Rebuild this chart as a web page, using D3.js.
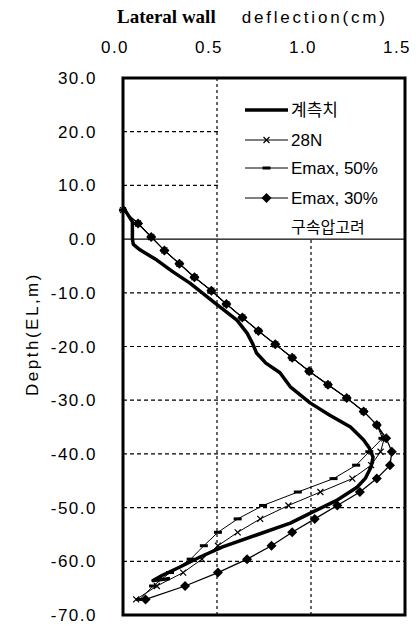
<!DOCTYPE html>
<html><head><meta charset="utf-8">
<script src="https://cdn.jsdelivr.net/npm/d3@7"></script>
<style>
body{margin:0;background:#fff;}
text{font-family:"Liberation Sans","Noto Sans CJK KR",sans-serif;fill:#000;}
</style></head>
<body><svg id="c" width="420" height="627"></svg>
<script>
// ---- data ----
const xTicks = [0.0, 0.5, 1.0, 1.5];
const yTicks = [30, 20, 10, 0, -10, -20, -30, -40, -50, -60, -70];
const seriesNames = ["계측치", "28N", "Emax, 50%", "Emax, 30%"];
const legendNote = "구속압고려";

// measured (thick line)
const measDepth = [6.0, 3.2, 0.0, -1.0, -2.0, -3.9, -6.1, -8.2, -11.9, -15.1, -17.5, -19.5, -21.2, -23.1, -24.9, -27.5, -30.5, -32.8, -35.0, -37.4, -38.9, -40.6, -42.4, -44.5, -46.2, -48.6, -50.8, -52.9, -55.1, -57.3, -59.2, -61.1, -62.6, -63.6, -63.2];
const measDefl  = [0.00, 0.05, 0.05, 0.055, 0.09, 0.18, 0.266, 0.356, 0.49, 0.606, 0.66, 0.69, 0.71, 0.76, 0.835, 0.89, 0.995, 1.10, 1.21, 1.28, 1.31, 1.33, 1.32, 1.29, 1.245, 1.14, 1.01, 0.89, 0.71, 0.53, 0.41, 0.30, 0.21, 0.16, 0.25];

// computed series (common node depths)
const nodeDepth = [5.4, 2.9, 0.4, -2.1, -4.6, -7.1, -9.6, -12.1, -14.6, -17.1, -19.6, -22.1, -24.6, -27.1, -29.6, -32.1, -34.6, -37.1, -39.6, -42.1, -44.6, -47.1, -49.6, -52.1, -54.6, -57.1, -59.6, -62.1, -64.6, -67.1];
const defl28N   = [0.00, 0.08, 0.15, 0.22, 0.30, 0.38, 0.47, 0.55, 0.635, 0.72, 0.81, 0.90, 0.99, 1.09, 1.19, 1.28, 1.35, 1.39, 1.37, 1.32, 1.22, 1.05, 0.88, 0.73, 0.61, 0.505, 0.42, 0.32, 0.18, 0.07];
const deflE50   = [0.00, 0.08, 0.15, 0.22, 0.30, 0.38, 0.47, 0.55, 0.635, 0.72, 0.81, 0.90, 0.99, 1.09, 1.19, 1.28, 1.35, 1.38, 1.31, 1.24, 1.12, 0.93, 0.745, 0.61, 0.505, 0.43, 0.36, 0.25, 0.16, 0.09];
const deflE30   = [0.00, 0.08, 0.15, 0.22, 0.30, 0.38, 0.47, 0.55, 0.635, 0.72, 0.81, 0.90, 0.99, 1.09, 1.19, 1.28, 1.35, 1.40, 1.43, 1.42, 1.35, 1.26, 1.14, 1.02, 0.90, 0.79, 0.66, 0.505, 0.33, 0.12];

// ---- layout ----
const svg = d3.select("#c");
const L = 123, R = 405, T = 78, B = 615;
const x = d3.scaleLinear().domain([0, 1.5]).range([L, R]);
const y = d3.scaleLinear().domain([30, -70]).range([T, B]);

// grid
const g = svg.append("g");
g.selectAll("line.v").data(xTicks.filter(v => v > 0 && v < 1.5)).enter().append("line")
  .attr("x1", d => x(d)).attr("x2", d => x(d)).attr("y1", T).attr("y2", B)
  .attr("stroke", "#000").attr("stroke-width", 1.2).attr("stroke-dasharray", "3,3");
g.selectAll("line.h").data(yTicks.filter(v => v < 30 && v > -70)).enter().append("line")
  .attr("x1", L).attr("x2", R).attr("y1", d => y(d)).attr("y2", d => y(d))
  .attr("stroke", "#000").attr("stroke-width", d => d === 0 ? 1.3 : 1.2)
  .attr("stroke-dasharray", d => d === 0 ? null : "4,3");

// legend background
svg.append("rect").attr("x", x(0.5) + 2).attr("y", T).attr("width", R - x(0.5) - 2).attr("height", y(0) - T - 1).attr("fill", "#fff");

// series
const line = d3.line().x(d => x(d[0])).y(d => y(d[1]));
const zip = (a, b) => a.map((v, i) => [v, b[i]]);

const s28 = zip(defl28N, nodeDepth), s50 = zip(deflE50, nodeDepth), s30 = zip(deflE30, nodeDepth);
svg.append("path").attr("d", line(s50)).attr("fill", "none").attr("stroke", "#000").attr("stroke-width", 1);
svg.append("path").attr("d", line(s28)).attr("fill", "none").attr("stroke", "#000").attr("stroke-width", 1);
svg.append("path").attr("d", line(s30)).attr("fill", "none").attr("stroke", "#000").attr("stroke-width", 1.3);
svg.append("path").attr("d", line(zip(measDefl, measDepth)))
  .attr("fill", "none").attr("stroke", "#000").attr("stroke-width", 3.5).attr("stroke-linejoin", "round");

// markers
function xMark(sel, cx, cy) {
  sel.append("path").attr("d", `M${cx-3},${cy-3}L${cx+3},${cy+3}M${cx-3},${cy+3}L${cx+3},${cy-3}`).attr("stroke", "#000").attr("stroke-width", 1.2);
}
function dashMark(sel, cx, cy) {
  sel.append("rect").attr("x", cx - 4).attr("y", cy - 1.5).attr("width", 8).attr("height", 3).attr("fill", "#000");
}
function diamond(sel, cx, cy) {
  sel.append("path").attr("d", `M${cx},${cy-5}L${cx+5},${cy}L${cx},${cy+5}L${cx-5},${cy}Z`).attr("fill", "#000");
}
const mg = svg.append("g");
s50.forEach(d => dashMark(mg, x(d[0]), y(d[1])));
s28.forEach(d => xMark(mg, x(d[0]), y(d[1])));
s30.slice(1).forEach(d => diamond(mg, x(d[0]), y(d[1])));

// frame
svg.append("rect").attr("x", L).attr("y", T).attr("width", R - L).attr("height", B - T)
  .attr("fill", "none").attr("stroke", "#000").attr("stroke-width", 3);

// axis labels
svg.selectAll("text.xt").data(xTicks).enter().append("text")
  .attr("x", d => x(d) - 8).attr("y", 53).attr("text-anchor", "middle")
  .attr("font-size", 17).attr("letter-spacing", 1.5).text(d => d.toFixed(1));
svg.selectAll("text.yt").data(yTicks).enter().append("text")
  .attr("x", 97).attr("y", d => y(d) + 6).attr("text-anchor", "end")
  .attr("font-size", 17).attr("letter-spacing", 1.5).text(d => d.toFixed(1));

// title
const title = svg.append("text").attr("x", 117).attr("y", 23).attr("font-size", 17);
title.append("tspan").attr("font-family", "Liberation Serif").attr("font-weight", "bold").attr("font-size", 19).text("Lateral wall");
title.append("tspan").attr("dx", 26).attr("letter-spacing", 2.8).text("deflection(cm)");

svg.append("text").attr("transform", "translate(38,334) rotate(-90)").attr("text-anchor", "middle")
  .attr("font-size", 17).attr("letter-spacing", 2.5).text("Depth(EL,m)");

// legend
const lx1 = 245, lx2 = 288, tx = 291;
const rows = [110, 140, 168, 198, 227];
const lg = svg.append("g");
seriesNames.forEach((n, i) => {
  const yy = rows[i];
  lg.append("line").attr("x1", lx1).attr("x2", lx2).attr("y1", yy).attr("y2", yy)
    .attr("stroke", "#000").attr("stroke-width", i === 0 ? 3.5 : 1);
  const cx = (lx1 + lx2) / 2;
  if (i === 1) xMark(lg, cx, yy);
  if (i === 2) dashMark(lg, cx, yy);
  if (i === 3) diamond(lg, cx, yy);
  lg.append("text").attr("x", tx).attr("y", yy + 6).attr("font-size", 17).text(n);
});
lg.append("text").attr("x", tx).attr("y", rows[4] + 6).attr("font-size", 16).text(legendNote);
</script></body></html>
